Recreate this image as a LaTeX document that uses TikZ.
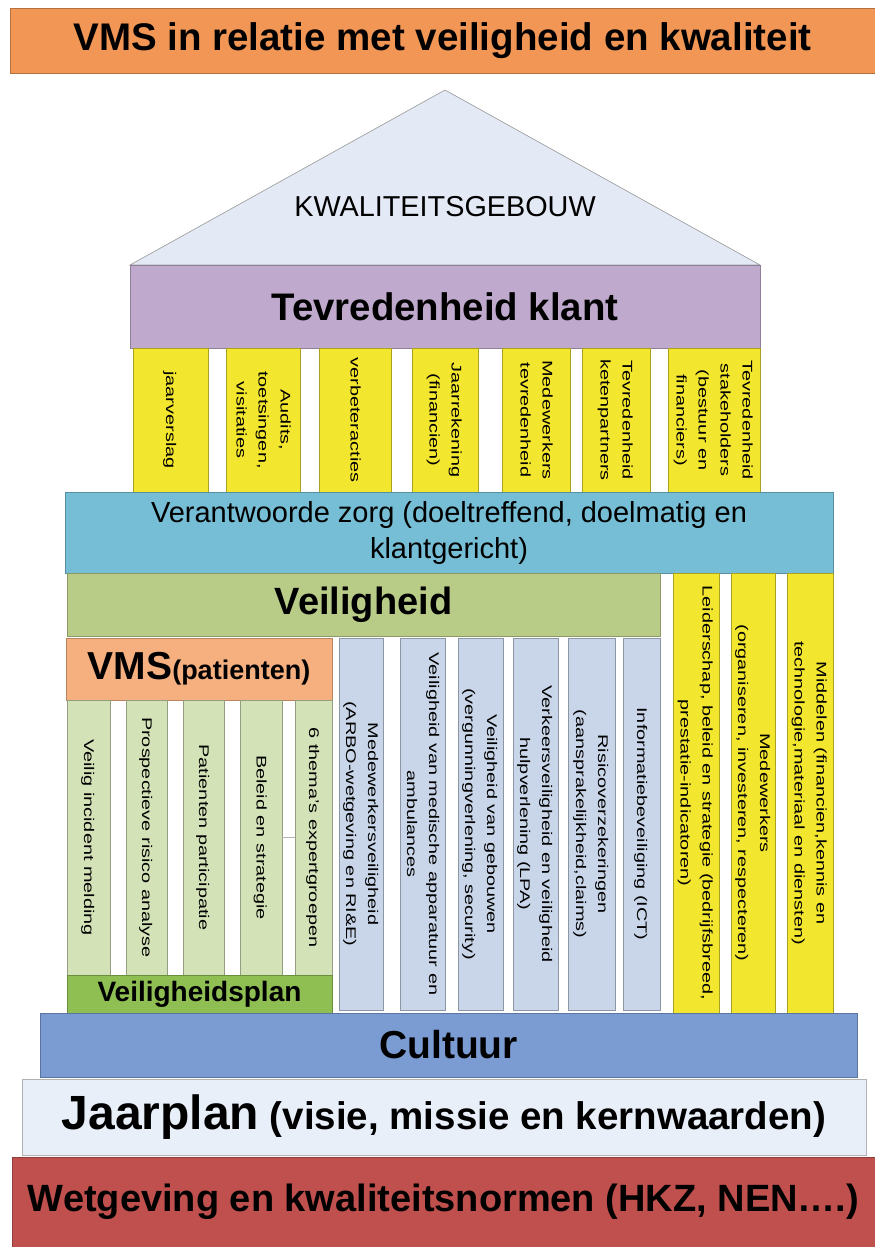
\documentclass[tikz,border=0pt]{standalone}
\usepackage{fontspec}
\setmainfont{Liberation Sans}
\usepackage{graphicx}
\usetikzlibrary{positioning}
\definecolor{titelorange}{RGB}{241,150,84}
\definecolor{dakblauw}{RGB}{228,234,245}
\definecolor{klantpaars}{RGB}{191,170,206}
\definecolor{pijlergeel}{RGB}{243,230,46}
\definecolor{zorgcyaan}{RGB}{117,190,213}
\definecolor{veiliggroen}{RGB}{184,204,136}
\definecolor{vmsoranje}{RGB}{246,176,127}
\definecolor{vmsgroen}{RGB}{212,226,184}
\definecolor{plangroen}{RGB}{143,191,82}
\definecolor{veilblauw}{RGB}{201,214,233}
\definecolor{cultuurblauw}{RGB}{123,156,211}
\definecolor{jaarwit}{RGB}{233,239,249}
\definecolor{wetrood}{RGB}{192,80,77}
\newcommand{\vtekst}[1]{\scalebox{1.42}[1]{\begin{tabular}{@{}c@{}}#1\end{tabular}}}
\tikzset{
    laag/.style={rectangle, draw=#1!75!black, fill=#1, line width=0.6pt, inner sep=0pt, align=center, font=\bfseries},
    pijler/.style={rectangle, draw=#1!70!black, fill=#1, line width=0.6pt, inner sep=0pt, rotate=-90, font=\fontsize{14}{22}\selectfont},
    dak/.style={draw=gray!80, fill=dakblauw, line width=0.6pt},
}

\begin{document}
\begin{tikzpicture}[x=1pt, y=-1pt]
    \fill[white] (0,0) rectangle (875,1247);
    \useasboundingbox (0,0) rectangle (875,1247);
    % Titel
    \node[laag=titelorange, minimum width=865pt, minimum height=65pt, font=\bfseries\fontsize{38.5}{40}\selectfont] (titel) at (442.5,40.5) {VMS in relatie met veiligheid en kwaliteit};
    % Dak
    \draw[dak] (130,265) -- (445,90) -- (760,265) -- cycle;
    \node[font=\fontsize{28.8}{30}\selectfont] (gebouw) at (445,207) {KWALITEITSGEBOUW};
    \node[laag=klantpaars, minimum width=630pt, minimum height=83pt, font=\bfseries\fontsize{38.4}{40}\selectfont] (klant) at (445,306.5) {Tevredenheid klant};
    % Bovenste pijlers
    \foreach \cx/\w/\txt [count=\i] in {170.5/75/{jaarverslag}, 263/74/{Audits,\\toetsingen,\\visitaties}, 355/72/{verbeteracties}, 445/66/{Jaarrekening\\(financien)}, 536/68/{Medewerkers\\tevredenheid}, 616/68/{Tevredenheid\\ketenpartners}, 714/92/{Tevredenheid\\stakeholders\\(bestuur en\\financiers)}} {
        \node[pijler=pijlergeel, minimum width=144pt, minimum height=\w pt] (boven\i) at (\cx,420) {\vtekst{\txt}};
    }
    \node[laag=zorgcyaan, minimum width=768pt, minimum height=81pt, font=\fontsize{29}{36}\selectfont] (zorg) at (449,532.5) {Verantwoorde zorg (doeltreffend, doelmatig en\\klantgericht)};
    \node[laag=veiliggroen, minimum width=593pt, minimum height=63pt, font=\bfseries\fontsize{38}{40}\selectfont] (veiligheid) at (363.5,604.5) {Veiligheid};
    % Rechter pijlers
    \foreach \cx/\w/\txt [count=\i] in {696/46/{Leiderschap, beleid en strategie (bedrijfsbreed,\\prestatie-indicatoren)}, 753.5/41/{Medewerkers\\(organiseren, investeren, respecteren)}, 810/46/{Middelen (financien,kennis en\\technologie,materiaal en diensten)}} {
        \node[pijler=pijlergeel, minimum width=440pt, minimum height=\w pt] (rechts\i) at (\cx,793) {\vtekst{\txt}};
    }
    % VMS
    \node[laag=vmsoranje, minimum width=266pt, minimum height=62pt] (vms) at (199,669) {{\fontsize{39}{40}\selectfont VMS}{\fontsize{27}{30}\selectfont (patienten)}};
    \foreach \cx/\w/\txt [count=\i] in {88.5/43/{Veilig incident melding}, 146.5/41/{Prospectieve risico analyse}, 203.5/41/{Patienten participatie}, 261/42/{Beleid en strategie}, 313.5/37/{6 thema's expertgroepen}} {
        \node[pijler=vmsgroen, minimum width=275pt, minimum height=\w pt] (vmspijler\i) at (\cx,837.5) {\vtekst{\txt}};
    }
    \draw[gray!60, line width=0.8pt] (vmspijler4.north) -- (vmspijler5.south);
    \node[laag=plangroen, minimum width=265pt, minimum height=38pt, font=\bfseries\fontsize{28}{30}\selectfont] (plan) at (199.5,994) {Veiligheidsplan};
    % Veiligheid pijlers
    \foreach \cx/\w/\txt [count=\i] in {361.5/43/{Medewerkersveiligheid\\(ARBO-wetgeving en RI\&E)}, 422.5/45/{Veiligheid van medische apparatuur en\\ambulances}, 480.5/45/{Veiligheid van gebouwen\\(vergunningverlening, security)}, 535.5/45/{Verkeersveiligheid en veiligheid\\hulpverlening (LPA)}, 591.5/47/{Risicoverzekeringen\\(aansprakelijkheid,claims)}, 641.5/37/{Informatiebeveiliging (ICT)}} {
        \node[pijler=veilblauw, minimum width=372pt, minimum height=\w pt] (veilpijler\i) at (\cx,824) {\vtekst{\txt}};
    }
    % Fundament
    \node[laag=cultuurblauw, minimum width=817pt, minimum height=64pt, font=\bfseries\fontsize{39}{40}\selectfont] (cultuur) at (448.5,1045) {Cultuur};
    \node[laag=jaarwit, draw=gray!60, minimum width=844pt, minimum height=76pt] (jaarplan) at (444,1117) {{\fontsize{48}{50}\selectfont Jaarplan}{\fontsize{38.5}{40}\selectfont\ (visie, missie en kernwaarden)}};
    \node[laag=wetrood, minimum width=863pt, minimum height=90pt, font=\bfseries\fontsize{38}{40}\selectfont] (wet) at (443.5,1202) {Wetgeving en kwaliteitsnormen (HKZ, NEN….)};
\end{tikzpicture}
\end{document}
